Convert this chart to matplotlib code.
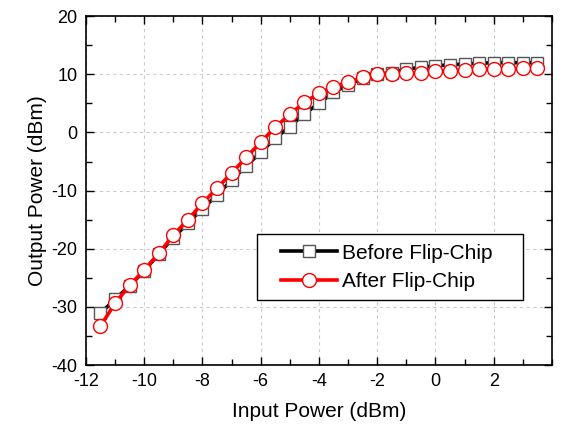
import matplotlib
matplotlib.use("Agg")
import matplotlib.pyplot as plt
from matplotlib.ticker import MultipleLocator
from matplotlib.legend_handler import HandlerLine2D

plt.rcParams['font.family'] = ['Liberation Sans', 'DejaVu Sans']
plt.rcParams['axes.unicode_minus'] = False

# input power sweep (dBm)
input_power = [-11.5, -11, -10.5, -10, -9.5, -9, -8.5, -8, -7.5, -7, -6.5, -6,
               -5.5, -5, -4.5, -4, -3.5, -3, -2.5, -2, -1.5, -1, -0.5, 0,
               0.5, 1, 1.5, 2, 2.5, 3, 3.5]

before_flip = [-31.1, -28.7, -26.4, -23.8, -20.9, -18.1, -15.6, -13.1, -10.8,
               -8.2, -5.8, -3.4, -1.0, 1.0, 3.2, 5.0, 6.9, 8.2, 9.3, 10.0,
               10.3, 10.9, 11.2, 11.5, 11.6, 11.8, 11.9, 12.0, 12.0, 12.0, 12.0]

after_flip = [-33.3, -29.4, -26.3, -23.7, -20.8, -17.7, -15.0, -12.2, -9.6,
              -7.0, -4.3, -1.7, 0.9, 3.1, 5.2, 6.7, 7.9, 8.6, 9.5, 10.0,
              10.1, 10.2, 10.3, 10.5, 10.6, 10.8, 10.9, 10.9, 10.9, 11.0, 11.1]

fig = plt.figure(figsize=(5.61, 4.25), dpi=100)
ax = fig.add_axes([0.153, 0.141, 0.831, 0.821])

ax.plot(input_power, before_flip, color='black', lw=2.6, marker='s',
        markersize=8.5, markerfacecolor='white', markeredgecolor='#555555',
        markeredgewidth=1.0, label='Before Flip-Chip')
ax.plot(input_power, after_flip, color='red', lw=2.6, marker='o',
        markersize=10, markerfacecolor='white', markeredgecolor='red',
        markeredgewidth=1.0, label='After Flip-Chip')

ax.set_xlim(-12, 4)
ax.set_ylim(-40, 20)
ax.xaxis.set_minor_locator(MultipleLocator(1))
ax.yaxis.set_major_locator(MultipleLocator(10))
ax.yaxis.set_minor_locator(MultipleLocator(5))
ax.set_xticks([-12, -10, -8, -6, -4, -2, 0, 2])
ax.tick_params(which='both', direction='in', top=True, right=True,
               labelsize=13, width=1.0)
ax.tick_params(which='major', length=6, pad=6)
ax.tick_params(which='minor', length=4)
ax.grid(True, which='major', linestyle=(0, (3, 3)), color='#cccccc', lw=0.8)
for s in ax.spines.values():
    s.set_linewidth(1.2)

ax.set_xlabel('Input Power (dBm)', fontsize=15, labelpad=8)
ax.set_ylabel('Output Power (dBm)', fontsize=15, labelpad=3)

# legend box spans the same area as in the original figure
hmap = {line: HandlerLine2D(xpad=0.7) for line in ax.get_lines()}
leg = ax.legend(loc='upper left', bbox_to_anchor=(0.367, 0.183, 0.571, 0.192),
                mode='expand', borderaxespad=0, fontsize=15, handler_map=hmap,
                fancybox=False, framealpha=1, edgecolor='black',
                handlelength=3.4, borderpad=0.45, labelspacing=0.45,
                handletextpad=0.25)
leg.get_frame().set_linewidth(1.0)

fig.savefig('out.png', dpi=100)
